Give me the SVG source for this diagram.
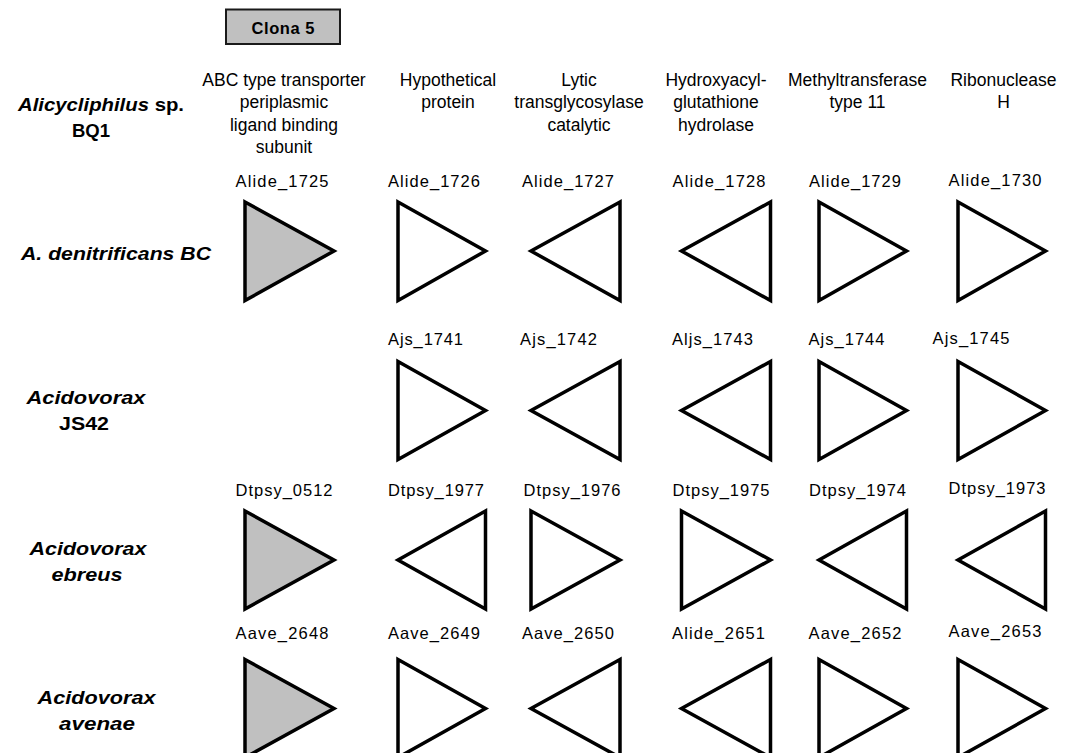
<svg xmlns="http://www.w3.org/2000/svg" width="1066" height="753" viewBox="0 0 1066 753">
<style>
.bg{fill:#ffffff}
.tri{fill:#ffffff;stroke:#000000;stroke-width:3.5;stroke-linejoin:miter}
.tri.hit{fill:#c0c0c0}
.lbl{font-family:"Liberation Sans",Arial,sans-serif;font-size:16.5px;fill:#000;text-anchor:middle}
.desc{font-family:"Liberation Sans",Arial,sans-serif;font-size:17.5px;fill:#000;text-anchor:middle}
.sp{font-family:"Liberation Sans",Arial,sans-serif;font-size:18.5px;font-weight:bold;font-style:italic;fill:#000;text-anchor:middle}
.up{font-style:normal}
.box{fill:#c0c0c0;stroke:#1a1a1a;stroke-width:2}
.boxt{font-family:"Liberation Sans",Arial,sans-serif;font-size:16.5px;font-weight:bold;fill:#000;text-anchor:middle}
</style>
<rect class="bg" x="0" y="0" width="1066" height="753"/>

<g id="clona5">
<rect class="box" x="226" y="9.5" width="114" height="34.5"/>
<text class="boxt" x="283" y="33.5" textLength="63">Clona 5</text>
</g>

<g id="descriptions">
<g id="desc-1"><text class="desc" y="85.5"><tspan x="284">ABC type transporter</tspan><tspan x="284" y="108">periplasmic</tspan><tspan x="284" y="130.5">ligand binding</tspan><tspan x="284" y="153">subunit</tspan></text></g>
<g id="desc-2"><text class="desc" y="85.5"><tspan x="448">Hypothetical</tspan><tspan x="448" y="108">protein</tspan></text></g>
<g id="desc-3"><text class="desc" y="85.5"><tspan x="579">Lytic</tspan><tspan x="579" y="108">transglycosylase</tspan><tspan x="579" y="130.5">catalytic</tspan></text></g>
<g id="desc-4"><text class="desc" y="85.5"><tspan x="716">Hydroxyacyl-</tspan><tspan x="716" y="108">glutathione</tspan><tspan x="716" y="130.5">hydrolase</tspan></text></g>
<g id="desc-5"><text class="desc" y="85.5"><tspan x="857.5">Methyltransferase</tspan><tspan x="857.5" y="108">type 11</tspan></text></g>
<g id="desc-6"><text class="desc" y="85.5"><tspan x="1003.5">Ribonuclease</tspan><tspan x="1003.5" y="108">H</tspan></text></g>
</g>

<g id="species">
<g id="sp-alicycliphilus"><text class="sp" x="101" y="110.5" textLength="166" lengthAdjust="spacingAndGlyphs"><tspan>Alicycliphilus</tspan><tspan class="up"> sp.</tspan></text><text class="sp up" x="91" y="136.5">BQ1</text></g>
<g id="sp-denitrificans"><text class="sp" x="116" y="260" textLength="190" lengthAdjust="spacingAndGlyphs">A. denitrificans BC</text></g>
<g id="sp-js42"><text class="sp" x="86" y="403.5" textLength="119" lengthAdjust="spacingAndGlyphs">Acidovorax</text><text class="sp up" x="84" y="430" textLength="50" lengthAdjust="spacingAndGlyphs">JS42</text></g>
<g id="sp-ebreus"><text class="sp" x="88" y="554.5" textLength="117" lengthAdjust="spacingAndGlyphs">Acidovorax</text><text class="sp" x="87" y="581" textLength="71" lengthAdjust="spacingAndGlyphs">ebreus</text></g>
<g id="sp-avenae"><text class="sp" x="96.5" y="703.5" textLength="118" lengthAdjust="spacingAndGlyphs">Acidovorax</text><text class="sp" x="97" y="729.5" textLength="76" lengthAdjust="spacingAndGlyphs">avenae</text></g>
</g>

<g id="row-denitrificans">
<g id="Alide_1725"><text class="lbl" x="282" y="187" textLength="93">Alide_1725</text><polygon class="tri hit" points="245,202 334,251 245,300.5"/></g>
<g id="Alide_1726"><text class="lbl" x="434" y="187" textLength="92">Alide_1726</text><polygon class="tri" points="398,202 485.5,251 398,300.5"/></g>
<g id="Alide_1727"><text class="lbl" x="568" y="187" textLength="92">Alide_1727</text><polygon class="tri" points="620,202 531,251 620,300.5"/></g>
<g id="Alide_1728"><text class="lbl" x="719" y="187" textLength="93">Alide_1728</text><polygon class="tri" points="770.5,202 681.5,251 770.5,300.5"/></g>
<g id="Alide_1729"><text class="lbl" x="855" y="187" textLength="92">Alide_1729</text><polygon class="tri" points="819,202 906.5,251 819,300.5"/></g>
<g id="Alide_1730"><text class="lbl" x="995" y="186" textLength="93">Alide_1730</text><polygon class="tri" points="958,202 1045.5,251 958,300.5"/></g>
</g>

<g id="row-js42">
<g id="Ajs_1741"><text class="lbl" x="425.5" y="345" textLength="75">Ajs_1741</text><polygon class="tri" points="398,361.5 485.5,410.5 398,459.5"/></g>
<g id="Ajs_1742"><text class="lbl" x="558.5" y="345" textLength="77">Ajs_1742</text><polygon class="tri" points="620,361.5 531,410.5 620,459.5"/></g>
<g id="Aljs_1743"><text class="lbl" x="712.5" y="345" textLength="81">Aljs_1743</text><polygon class="tri" points="770.5,361.5 681.5,410.5 770.5,459.5"/></g>
<g id="Ajs_1744"><text class="lbl" x="846.5" y="345" textLength="76">Ajs_1744</text><polygon class="tri" points="819,361.5 906.5,410.5 819,459.5"/></g>
<g id="Ajs_1745"><text class="lbl" x="971" y="344" textLength="77">Ajs_1745</text><polygon class="tri" points="958,361.5 1045.5,410.5 958,459.5"/></g>
</g>

<g id="row-ebreus">
<g id="Dtpsy_0512"><text class="lbl" x="284" y="495.5" textLength="97">Dtpsy_0512</text><polygon class="tri hit" points="245,511 334,560 245,609"/></g>
<g id="Dtpsy_1977"><text class="lbl" x="436" y="495.5" textLength="96">Dtpsy_1977</text><polygon class="tri" points="485.5,511 398,560 485.5,609"/></g>
<g id="Dtpsy_1976"><text class="lbl" x="572" y="495.5" textLength="97">Dtpsy_1976</text><polygon class="tri" points="531,511 620,560 531,609"/></g>
<g id="Dtpsy_1975"><text class="lbl" x="721" y="495.5" textLength="97">Dtpsy_1975</text><polygon class="tri" points="681.5,511 770.5,560 681.5,609"/></g>
<g id="Dtpsy_1974"><text class="lbl" x="857.5" y="495.5" textLength="97">Dtpsy_1974</text><polygon class="tri" points="906.5,511 819,560 906.5,609"/></g>
<g id="Dtpsy_1973"><text class="lbl" x="997" y="494" textLength="97">Dtpsy_1973</text><polygon class="tri" points="1045.5,511 958,560 1045.5,609"/></g>
</g>

<g id="row-avenae">
<g id="Aave_2648"><text class="lbl" x="282" y="638.5" textLength="93">Aave_2648</text><polygon class="tri hit" points="245,659.5 334,708.5 245,757.5"/></g>
<g id="Aave_2649"><text class="lbl" x="434" y="638.5" textLength="92">Aave_2649</text><polygon class="tri" points="398,659.5 485.5,708.5 398,757.5"/></g>
<g id="Aave_2650"><text class="lbl" x="568" y="638.5" textLength="92">Aave_2650</text><polygon class="tri" points="620,659.5 531,708.5 620,757.5"/></g>
<g id="Alide_2651"><text class="lbl" x="718.5" y="638.5" textLength="93">Alide_2651</text><polygon class="tri" points="770.5,659.5 681.5,708.5 770.5,757.5"/></g>
<g id="Aave_2652"><text class="lbl" x="855" y="638.5" textLength="93">Aave_2652</text><polygon class="tri" points="819,659.5 906.5,708.5 819,757.5"/></g>
<g id="Aave_2653"><text class="lbl" x="995" y="637" textLength="93">Aave_2653</text><polygon class="tri" points="958,659.5 1045.5,708.5 958,757.5"/></g>
</g>

<g id="connectors"/>
</svg>
